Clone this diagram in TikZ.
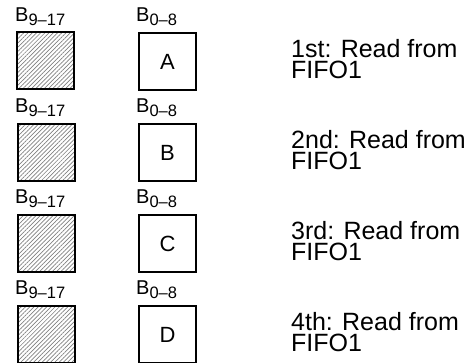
\documentclass[tikz,border=0pt]{standalone}
\usepackage{fontspec}
\setmainfont{Liberation Sans}
\usetikzlibrary{patterns.meta}
\newcommand\bsub[1]{\raisebox{-4.5pt}{\fontsize{16.5}{16.5}\selectfont #1}}
\begin{document}
\begin{tikzpicture}[x=1pt,y=-1pt,
  box/.style={draw, line width=2pt, minimum width=57pt, minimum height=57pt,
    inner sep=0pt, anchor=north west, font=\fontsize{22}{22}\selectfont},
  hatchbox/.style={box, pattern={Lines[angle=45,distance=3pt,line width=0.7pt]},
    pattern color=gray},
  blabel/.style={anchor=base west, inner sep=0pt, font=\fontsize{20}{20}\selectfont},
  readtext/.style={anchor=base west, align=left, inner sep=0pt,
    font=\fontsize{25}{21}\selectfont}]
\useasboundingbox (0,0) rectangle (473,362);
\foreach \i/\L/\ord in {0/A/1st,1/B/2nd,2/C/3rd,3/D/4th}{
  \pgfmathsetmacro\top{31+91*\i}
  \node[hatchbox] (h\i) at (17,\top+1) {};
  \node[box] (b\i) at (138,\top+1) {\L};
  \node[blabel] (lh\i) at (15,\top-10) {B\bsub{9--17}};
  \node[blabel] (lb\i) at (136,\top-10) {B\bsub{0--8}};
  \node[readtext] (t\i) at (291,\top+47) {\ord: Read from\\FIFO1};
}
\end{tikzpicture}
\end{document}
